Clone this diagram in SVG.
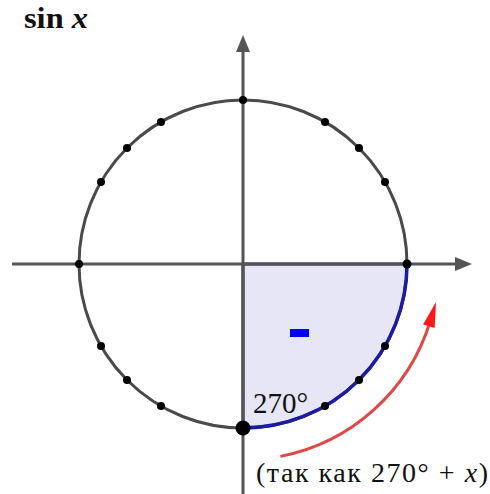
<svg xmlns="http://www.w3.org/2000/svg" width="490" height="494" viewBox="0 0 490 494">
<style>
.ax{stroke:#555;stroke-width:3;fill:none}
.dot{fill:#000}
text{font-family:"Liberation Serif","DejaVu Serif",serif;fill:#111}
</style>
<rect width="490" height="494" fill="#fff"/>
<g id="sector">
<path d="M243,264 L407,264 A164,164 0 0 1 243,428 Z" fill="#e6e6f7" stroke="none"/>
<path d="M243,428 L243,264 L407,264" fill="none" stroke="#1c1c50" stroke-width="3"/>
</g>
<g id="axes">
<line class="ax" x1="12" y1="264" x2="458" y2="264"/>
<polygon points="472,264 455,257 455,271" fill="#555"/>
<line class="ax" x1="243" y1="494" x2="243" y2="50"/>
<polygon points="243,35 236,52 250,52" fill="#555"/>
</g>
<g id="circle">
<circle cx="243" cy="264" r="164" fill="none" stroke="#4a4a4a" stroke-width="3"/>
<path d="M407,264 A164,164 0 0 1 243,428" fill="none" stroke="#1c1ca0" stroke-width="3.5"/>
</g>
<g id="points">
<circle class="dot" cx="243" cy="100" r="4"/>
<circle class="dot" cx="325" cy="122" r="4"/>
<circle class="dot" cx="359" cy="148" r="4"/>
<circle class="dot" cx="385" cy="182" r="4"/>
<circle class="dot" cx="407" cy="264" r="4.5"/>
<circle class="dot" cx="161" cy="122" r="4"/>
<circle class="dot" cx="127" cy="148" r="4"/>
<circle class="dot" cx="101" cy="182" r="4"/>
<circle class="dot" cx="79" cy="264" r="4"/>
<circle class="dot" cx="101" cy="346" r="4"/>
<circle class="dot" cx="127" cy="380" r="4"/>
<circle class="dot" cx="161" cy="406" r="4"/>
<circle class="dot" cx="385" cy="346" r="4"/>
<circle class="dot" cx="359" cy="380" r="4"/>
<circle class="dot" cx="325" cy="406" r="4"/>
<circle class="dot" cx="243" cy="428" r="7.5"/>
</g>
<g id="connectors">
<path d="M280.4,456.4 A196,196 0 0 0 430,322" fill="none" stroke="#e04848" stroke-width="3"/>
<polygon points="436,302 434.7,328 423.1,324.5" fill="#ff1a1a"/>
</g>
<g id="sign">
<rect x="290" y="329" width="19" height="8" fill="#0000ff"/>
</g>
<g id="labels">
<text x="24" y="28" font-family="Liberation Serif, DejaVu Serif, serif" font-size="29" font-weight="bold" textLength="64" lengthAdjust="spacingAndGlyphs">sin <tspan font-style="italic">x</tspan></text>
<text x="253" y="413" font-family="Liberation Serif, DejaVu Serif, serif" font-size="29" textLength="55" lengthAdjust="spacing">270°</text>
<text x="256" y="482" font-family="Liberation Serif, DejaVu Serif, serif" font-size="28" textLength="232" lengthAdjust="spacing">(так как 270° + <tspan font-style="italic">x</tspan>)</text>
</g>
</svg>
